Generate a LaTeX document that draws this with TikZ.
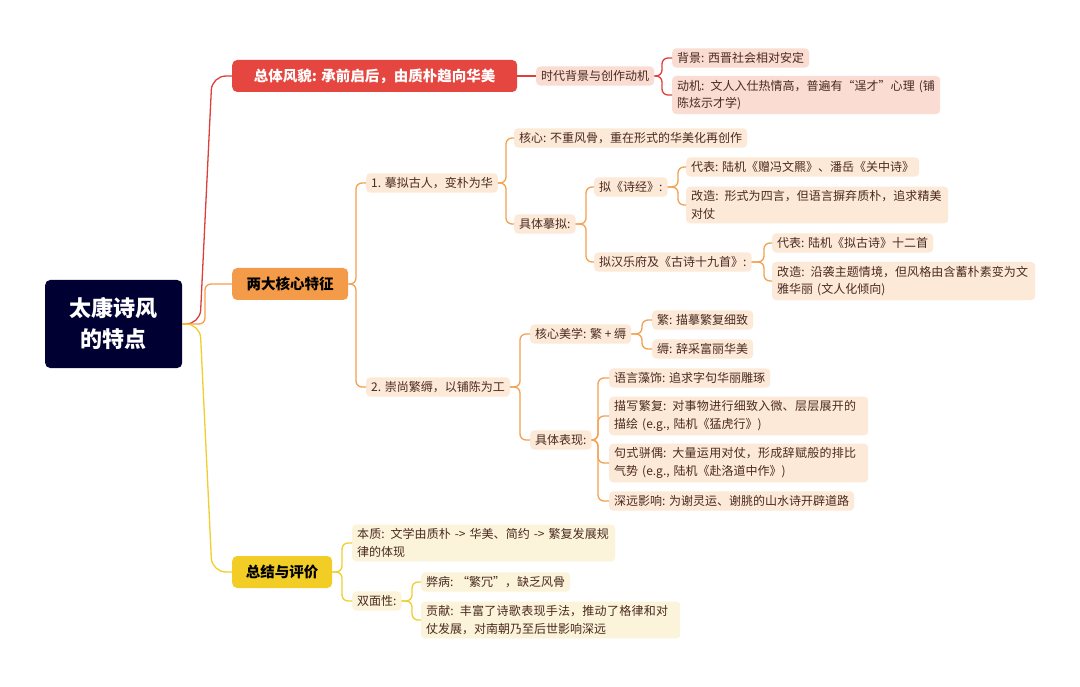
\documentclass[tikz,border=0pt]{standalone}
\usepackage{fontspec}
\setmainfont{Noto Sans CJK SC}
\XeTeXlinebreaklocale "zh"
\XeTeXlinebreakskip=0pt plus 1pt
\definecolor{rfill}{HTML}{FADCD3}
\definecolor{ofill}{HTML}{FDE9D7}
\definecolor{yfill}{HTML}{FBF3DA}
\definecolor{rline}{HTML}{DD3F3A}
\definecolor{oline}{HTML}{F3A152}
\definecolor{yline}{HTML}{F0CE2E}
\definecolor{rmain}{HTML}{E5463F}
\definecolor{omain}{HTML}{F39B48}
\definecolor{ymain}{HTML}{F1CD25}
\definecolor{tx}{HTML}{4A2A20}
\begin{document}
\begin{tikzpicture}[x=1pt,y=-1pt,
  base/.style={anchor=west,rounded corners=4pt,inner xsep=5pt,inner ysep=4pt,font=\fontsize{12}{17.5}\selectfont,text=tx,align=left},
  rbox/.style={base,fill=rfill},
  obox/.style={base,fill=ofill},
  ybox/.style={base,fill=yfill},
  l1/.style={anchor=west,rounded corners=5pt,inner xsep=9pt,minimum height=32pt,font=\fontsize{14.5}{16}\bfseries\selectfont},
  rl/.style={draw=rline,line width=1.3pt,rounded corners=6pt},
  ol/.style={draw=oline,line width=1.3pt,rounded corners=6pt},
  yl/.style={draw=yline,line width=1.3pt,rounded corners=6pt}]
\useasboundingbox (0,0) rectangle (1080,687);
\fill[white] (0,0) rectangle (1080,687);
% root
\node[anchor=west,fill=blue!20!black,text=white,rounded corners=5pt,minimum width=137pt,minimum height=88pt,align=center,font=\fontsize{22}{31}\bfseries\selectfont] (root) at (45,324) {太康诗风\\的特点};
% level 1
\node[l1,fill=rmain,text=white,minimum width=285pt] (A) at (232,76) {总体风貌: 承前启后，由质朴趋向华美};
\node[l1,fill=omain,text=black,minimum width=116pt] (B) at (232,284) {两大核心特征};
\node[l1,fill=ymain,text=black,minimum width=100pt] (C) at (232,572) {总结与评价};
\draw[rl,rounded corners=14pt] (root.east) -- (200,324) -- (212,76) -- (A.west);
\draw[ol] (root.east) -- (205,324) |- (B.west);
\draw[yl,rounded corners=14pt] (root.east) -- (200,324) -- (212,572) -- (C.west);
% red
\node[rbox] (A1) at (536,76) {时代背景与创作动机};
\node[rbox] (A11) at (672,58) {背景: 西晋社会相对安定};
\node[rbox,text width=258pt] (A12) at (672,95) {动机: 文人入仕热情高，普遍有“逞才”心理 (铺陈炫示才学)};
\draw[rl] (A.east) -- (A1.west);
\draw[rl] (A1.east) -- (662,76) |- (A11.west);
\draw[rl] (A1.east) -- (662,76) |- (A12.west);
% orange
\node[obox] (B1) at (366,183) {1. 摹拟古人，变朴为华};
\node[obox] (B2) at (366,387) {2. 崇尚繁缛，以铺陈为工};
\draw[ol] (B.east) -- (356,284) |- (B1.west);
\draw[ol] (B.east) -- (356,284) |- (B2.west);
\node[obox] (B11) at (514,138) {核心: 不重风骨，重在形式的华美化再创作};
\node[obox] (B12) at (514,224) {具体摹拟:};
\draw[ol] (B1.east) -- (506,183) |- (B11.west);
\draw[ol] (B1.east) -- (506,183) |- (B12.west);
\node[obox] (B121) at (594,187) {拟《诗经》:};
\node[obox] (B122) at (594,262) {拟汉乐府及《古诗十九首》:};
\draw[ol] (B12.east) -- (586,224) |- (B121.west);
\draw[ol] (B12.east) -- (586,224) |- (B122.west);
\node[obox] (B1211) at (686,167) {代表: 陆机《赠冯文羆》、潘岳《关中诗》};
\node[obox,text width=252pt] (B1212) at (686,205) {改造: 形式为四言，但语言摒弃质朴，追求精美对仗};
\draw[ol] (B121.east) -- (678,187) |- (B1211.west);
\draw[ol] (B121.east) -- (678,187) |- (B1212.west);
\node[obox] (B1221) at (772,243) {代表: 陆机《拟古诗》十二首};
\node[obox,text width=253pt] (B1222) at (772,281) {改造: 沿袭主题情境，但风格由含蓄朴素变为文雅华丽 (文人化倾向)};
\draw[ol] (B122.east) -- (764,262) |- (B1221.west);
\draw[ol] (B122.east) -- (764,262) |- (B1222.west);
\node[obox] (B21) at (530,334) {核心美学: 繁 + 缛};
\node[obox] (B22) at (530,440) {具体表现:};
\draw[ol] (B2.east) -- (520,387) |- (B21.west);
\draw[ol] (B2.east) -- (520,387) |- (B22.west);
\node[obox] (B211) at (652,320) {繁: 描摹繁复细致};
\node[obox] (B212) at (652,349) {缛: 辞采富丽华美};
\draw[ol] (B21.east) -- (642,334) |- (B211.west);
\draw[ol] (B21.east) -- (642,334) |- (B212.west);
\node[obox] (B221) at (609,378) {语言藻饰: 追求字句华丽雕琢};
\node[obox,text width=249pt] (B222) at (609,416) {描写繁复: 对事物进行细致入微、层层展开的描绘 (e.g., 陆机《猛虎行》)};
\node[obox,text width=249pt] (B223) at (609,463) {句式骈偶: 大量运用对仗，形成辞赋般的排比气势 (e.g., 陆机《赴洛道中作》)};
\node[obox] (B224) at (609,501) {深远影响: 为谢灵运、谢朓的山水诗开辟道路};
\foreach \n in {B221,B222,B223,B224}
  \draw[ol] (B22.east) -- (598,440) |- (\n.west);
% yellow
\node[ybox,text width=253pt] (C1) at (352,543) {本质: 文学由质朴 -> 华美、简约 -> 繁复发展规律的体现};
\node[ybox] (C2) at (352,601) {双面性:};
\draw[yl] (C.east) -- (342,572) |- (C1.west);
\draw[yl] (C.east) -- (342,572) |- (C2.west);
\node[ybox] (C21) at (421,582) {弊病: “繁冗”，缺乏风骨};
\node[ybox,text width=249pt] (C22) at (421,620) {贡献: 丰富了诗歌表现手法，推动了格律和对仗发展，对南朝乃至后世影响深远};
\draw[yl] (C2.east) -- (412,601) |- (C21.west);
\draw[yl] (C2.east) -- (412,601) |- (C22.west);
\end{tikzpicture}
\end{document}
